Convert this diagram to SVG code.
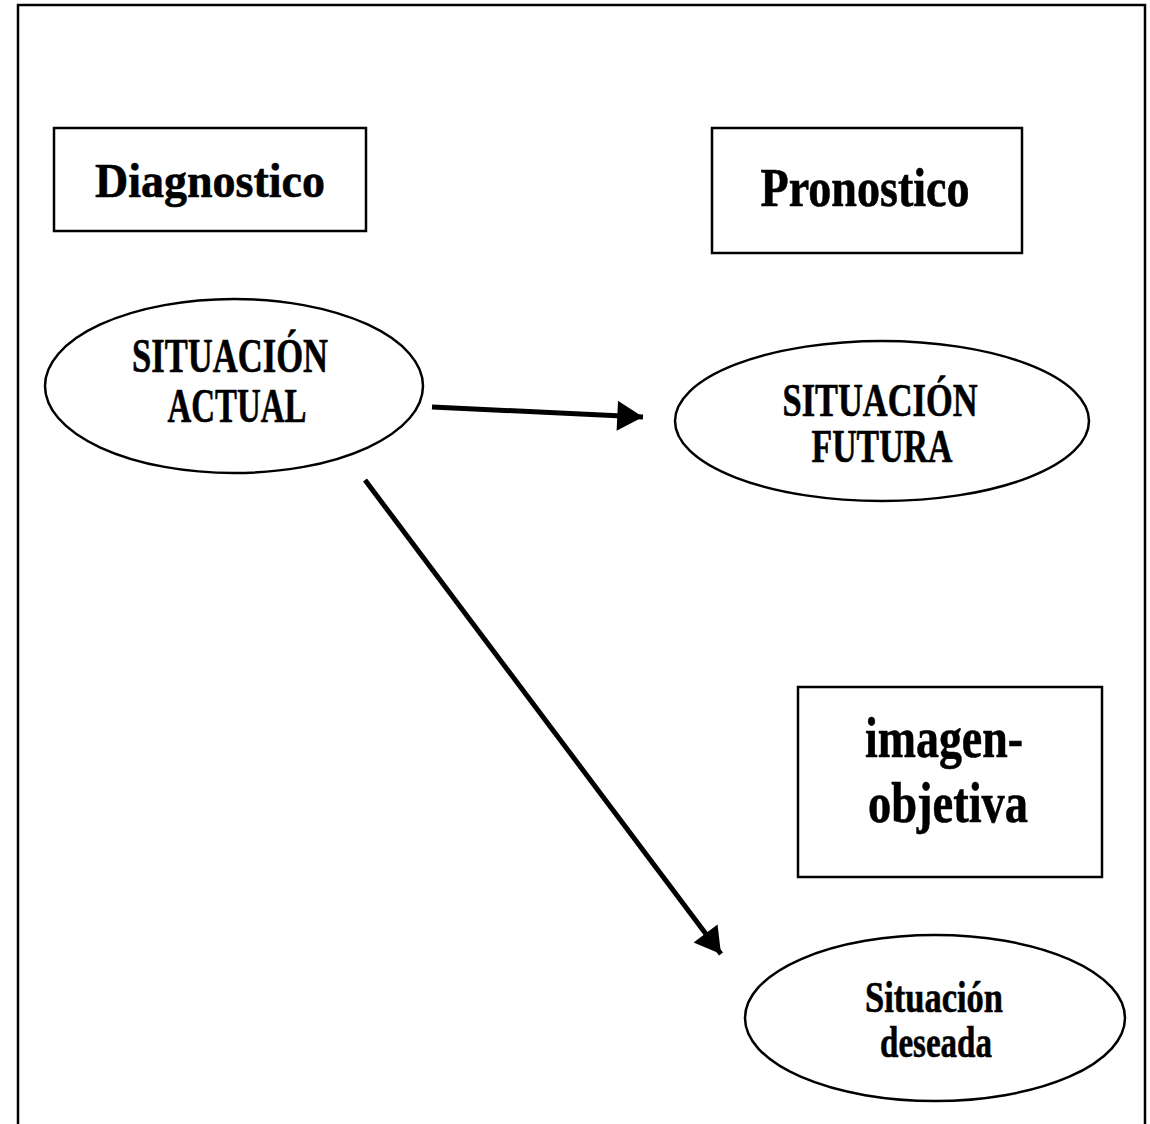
<svg xmlns="http://www.w3.org/2000/svg" width="1150" height="1124" viewBox="0 0 1150 1124">
<style>
.frame{fill:none;stroke:#000;stroke-width:2.5}
.box{fill:#fff;stroke:#000;stroke-width:2.5}
.ell{fill:#fff;stroke:#000;stroke-width:2.5}
.t{font-family:"Liberation Serif","Times New Roman",serif;font-weight:bold;fill:#000;stroke:#000;stroke-width:0.6;text-anchor:middle}
.conn{stroke:#000;stroke-width:5;fill:none}
</style>
<defs>
<marker id="ah" markerUnits="userSpaceOnUse" markerWidth="30" markerHeight="30" viewBox="0 0 24 28" refX="24" refY="14" orient="auto">
<path d="M0,0 L24,14 L0,28 Z" fill="#000"/>
</marker>
</defs>
<rect width="1150" height="1124" fill="#fff"/>
<path class="frame" d="M18,1124 V5 H1145 V1124"/>
<g id="diagnostico">
<rect class="box" x="54" y="128" width="312" height="103"/>
<text class="t" x="210" y="197" font-size="49" textLength="230" lengthAdjust="spacingAndGlyphs">Diagnostico</text>
</g>
<g id="pronostico">
<rect class="box" x="712" y="128" width="310" height="125"/>
<text class="t" x="865" y="206" font-size="55" textLength="209" lengthAdjust="spacingAndGlyphs">Pronostico</text>
</g>
<g id="situacion-actual">
<ellipse class="ell" cx="234" cy="386" rx="189" ry="87"/>
<text class="t" x="230" y="372" font-size="48" textLength="196" lengthAdjust="spacingAndGlyphs">SITUACIÓN</text>
<text class="t" x="237" y="422" font-size="48" textLength="139" lengthAdjust="spacingAndGlyphs">ACTUAL</text>
</g>
<g id="situacion-futura">
<ellipse class="ell" cx="882" cy="421" rx="207" ry="80"/>
<text class="t" x="880" y="416" font-size="46" textLength="195" lengthAdjust="spacingAndGlyphs">SITUACIÓN</text>
<text class="t" x="882" y="462" font-size="46" textLength="141" lengthAdjust="spacingAndGlyphs">FUTURA</text>
</g>
<g id="imagen-objetiva">
<rect class="box" x="798" y="687" width="304" height="190"/>
<text class="t" x="944" y="757" font-size="58" textLength="158" lengthAdjust="spacingAndGlyphs">imagen-</text>
<text class="t" x="948" y="822" font-size="58" textLength="160" lengthAdjust="spacingAndGlyphs">objetiva</text>
</g>
<g id="situacion-deseada">
<ellipse class="ell" cx="935" cy="1018" rx="190" ry="83"/>
<text class="t" x="934" y="1012" font-size="44" textLength="138" lengthAdjust="spacingAndGlyphs">Situación</text>
<text class="t" x="936" y="1057" font-size="44" textLength="112" lengthAdjust="spacingAndGlyphs">deseada</text>
</g>
<g id="connectors">
<line class="conn" x1="432" y1="407" x2="643" y2="417" marker-end="url(#ah)"/>
<line class="conn" x1="365" y1="480" x2="721" y2="954" marker-end="url(#ah)"/>
</g>
</svg>
